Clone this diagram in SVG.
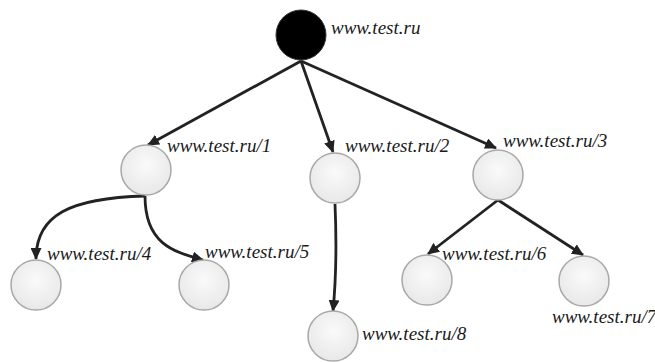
<svg xmlns="http://www.w3.org/2000/svg" width="655" height="362" viewBox="0 0 655 362">
<defs>
<radialGradient id="g" cx="50%" cy="40%" r="60%">
<stop offset="0" stop-color="#fafafa"/>
<stop offset="1" stop-color="#e8e8e8"/>
</radialGradient>
<marker id="ah" markerWidth="12" markerHeight="11" refX="11" refY="5.5" orient="auto" markerUnits="userSpaceOnUse" viewBox="0 0 12 11">
<path d="M0,0 L12,5.5 L0,11 Z" fill="#222"/>
</marker>
</defs>
<style>
.n{fill:url(#g);stroke:#a8a8a8;stroke-width:1.5}
.r{fill:#000;stroke:#333;stroke-width:1}
.c{fill:none;stroke:#222;stroke-width:2.8;marker-end:url(#ah)}
</style>
<g id="connectors">
<path class="c" d="M301,61 L148,145"/>
<path class="c" d="M301,61 L333,152"/>
<path class="c" d="M301,61 L496,148"/>
<path class="c" d="M145,196 C70,198 36,215 36,259"/>
<path class="c" d="M145,196 C145,245 175,252 203,260"/>
<path class="c" d="M335,204 C337,250 336,280 333,311"/>
<path class="c" d="M498,200 L428,254"/>
<path class="c" d="M498,200 L583,255"/>
</g>
<g id="root"><circle class="r" cx="301" cy="35" r="25"/><text x="331" y="34" font-family="Liberation Serif" font-style="italic" font-size="19" fill="#1a1a1a">www.test.ru</text></g>
<g id="n1"><circle class="n" cx="146" cy="170" r="25"/><text x="167" y="152" font-family="Liberation Serif" font-style="italic" font-size="19" fill="#1a1a1a">www.test.ru/1</text></g>
<g id="n2"><circle class="n" cx="335" cy="178" r="25"/><text x="345" y="152" font-family="Liberation Serif" font-style="italic" font-size="19" fill="#1a1a1a">www.test.ru/2</text></g>
<g id="n3"><circle class="n" cx="498" cy="175" r="25"/><text x="503" y="147" font-family="Liberation Serif" font-style="italic" font-size="19" fill="#1a1a1a">www.test.ru/3</text></g>
<g id="n4"><circle class="n" cx="36" cy="285" r="25"/><text x="47" y="260" font-family="Liberation Serif" font-style="italic" font-size="19" fill="#1a1a1a">www.test.ru/4</text></g>
<g id="n5"><circle class="n" cx="204" cy="285" r="25"/><text x="205" y="258" font-family="Liberation Serif" font-style="italic" font-size="19" fill="#1a1a1a">www.test.ru/5</text></g>
<g id="n6"><circle class="n" cx="427" cy="280" r="25"/><text x="442" y="260" font-family="Liberation Serif" font-style="italic" font-size="19" fill="#1a1a1a">www.test.ru/6</text></g>
<g id="n7"><circle class="n" cx="584" cy="281" r="25"/><text x="552" y="323" font-family="Liberation Serif" font-style="italic" font-size="19" fill="#1a1a1a">www.test.ru/7</text></g>
<g id="n8"><circle class="n" cx="333" cy="336" r="25"/><text x="362" y="340" font-family="Liberation Serif" font-style="italic" font-size="19" fill="#1a1a1a">www.test.ru/8</text></g>
</svg>
